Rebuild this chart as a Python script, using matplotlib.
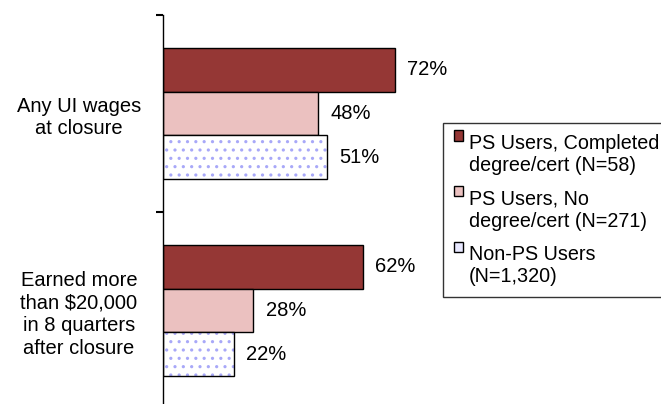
import matplotlib
matplotlib.use("Agg")
import matplotlib.pyplot as plt
import numpy as np
from matplotlib.patches import Rectangle
from matplotlib.legend_handler import HandlerPatch

plt.rcParams['font.family'] = ['Liberation Sans', 'DejaVu Sans']
plt.rcParams['hatch.linewidth'] = 1.1

categories = ["Any UI wages\nat closure",
              "Earned more\nthan $20,000\nin 8 quarters\nafter closure"]
series_names = ["PS Users, Completed\ndegree/cert (N=58)",
                "PS Users, No\ndegree/cert (N=271)",
                "Non-PS Users\n(N=1,320)"]
completed = [72, 62]
no_degree = [48, 28]
non_ps = [51, 22]
values = [completed, no_degree, non_ps]

face_colors = ["#953735", "#EBC1C0", "white"]
hatches = [None, None, ".."]
hatch_color = "#A8A8F8"

FS = 14.5
LEG_FS = 14.2

fig = plt.figure(figsize=(6.61, 4.04), dpi=100)
ax = fig.add_axes([163 / 661, -5 / 404, 322 / 661, 394 / 404])

bar_h = 0.222
offsets = [-bar_h, 0, bar_h]
y = np.arange(len(categories))
for vals, off, fc, ht in zip(values, offsets, face_colors, hatches):
    b = ax.barh(y + off, vals, height=bar_h, color=fc, edgecolor="black",
                linewidth=1.0, hatch=ht, zorder=2)
    if ht:
        # hatch takes the edge colour, so draw the black outline separately
        for p in b:
            p.set_edgecolor(hatch_color)
            p.set_linewidth(0)
        ax.barh(y + off, vals, height=bar_h, color="none", edgecolor="black",
                linewidth=1.0, zorder=3)
    for yy, v in zip(y + off, vals):
        ax.annotate(f"{v}%", (v, yy), xytext=(9, 0), textcoords="offset points",
                    va="center", ha="left", fontsize=FS)

ax.set_xlim(0, 100)
ax.set_ylim(1.5, -0.5)
ax.set_xticks([])
for s in ["top", "right", "bottom"]:
    ax.spines[s].set_visible(False)
ax.spines["left"].set_linewidth(1.0)

ax.set_yticks([-0.5, 0.5, 1.5])
ax.set_yticklabels([])
ax.tick_params(axis="y", which="major", length=5, width=1.5, direction="out")
ax.set_yticks(y, minor=True)
ax.set_yticklabels(categories, minor=True, fontsize=FS, multialignment="center",
                   linespacing=1.25, ha="center")
ax.tick_params(axis="y", which="minor", length=0, pad=60.5)


class OffsetSquare(HandlerPatch):
    def create_artists(self, legend, orig_handle, xdescent, ydescent,
                       width, height, fontsize, trans):
        fc = orig_handle.get_facecolor()
        r = Rectangle((-xdescent, -ydescent + 14), width, height,
                      facecolor=fc, edgecolor="black", linewidth=1.0,
                      transform=trans)
        return [r]


handles = [Rectangle((0, 0), 1, 1, facecolor=fc)
           for fc in ["#953735", "#EBC1C0", "#E8E8FF"]]
leg = fig.legend(handles, series_names, loc="upper left",
                 bbox_to_anchor=(443 / 661, 1 - 123 / 404), fontsize=LEG_FS,
                 frameon=True, fancybox=False, shadow=False,
                 handlelength=0.45, handleheight=0.45, handletextpad=0.3,
                 labelspacing=0.75, borderpad=0.55, borderaxespad=0,
                 handler_map={Rectangle: OffsetSquare()})
leg.get_frame().set_edgecolor("black")
leg.get_frame().set_linewidth(1.0)
for t in leg.get_texts():
    t.set_linespacing(1.2)

fig.savefig("out.png", dpi=100)
